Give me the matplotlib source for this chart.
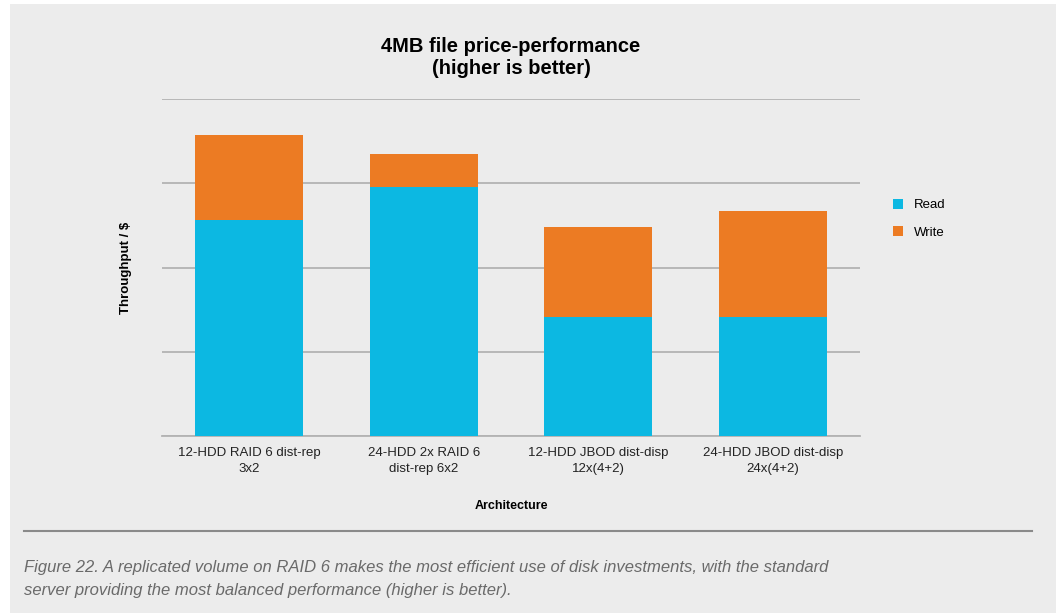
import numpy as np
import matplotlib
matplotlib.use("Agg")
import matplotlib.pyplot as plt
from matplotlib.patches import Rectangle
from matplotlib.lines import Line2D

# data (arbitrary throughput/$ units)
categories = ["12-HDD RAID 6 dist-rep\n3x2",
              "24-HDD 2x RAID 6\ndist-rep 6x2",
              "12-HDD JBOD dist-disp\n12x(4+2)",
              "24-HDD JBOD dist-disp\n24x(4+2)"]
read_vals = [2.56, 2.96, 1.41, 1.41]
write_vals = [1.01, 0.39, 1.07, 1.26]

READ_C = "#0cb8e2"
WRITE_C = "#ec7b23"
BG = "#ececec"

plt.rcParams['font.family'] = ['Liberation Sans', 'DejaVu Sans']

fig = plt.figure(figsize=(10.59, 6.13), dpi=100)
fig.patch.set_facecolor("white")
# grey panel behind everything
fig.patches.append(Rectangle((10/1059, 0), 1 - 13/1059, 1 - 4/613,
                             transform=fig.transFigure, facecolor=BG,
                             edgecolor="none", zorder=-10))

ax = fig.add_axes([162/1059, (613-436)/613, (860-162)/1059, (436-99)/613])
ax.set_facecolor(BG)

x = np.arange(len(categories))
ax.bar(x, read_vals, width=0.62, color=READ_C, label="Read", zorder=3)
ax.bar(x, write_vals, width=0.62, bottom=read_vals, color=WRITE_C,
       label="Write", zorder=3)

ax.set_xlim(-0.5, 3.5)
ax.set_ylim(0, 4)
ax.set_yticks([0, 1, 2, 3, 4])
ax.set_yticklabels([])
ax.yaxis.grid(True, color="#b3b3b3", linewidth=1.3, zorder=0)
ax.tick_params(axis="both", length=0)
ax.set_xticks(x)
ax.set_xticklabels(categories, fontsize=9.5, color="#222222", linespacing=1.4)
ax.tick_params(axis="x", pad=8)
for s in ["top", "right", "left"]:
    ax.spines[s].set_visible(False)
ax.spines["bottom"].set_color("#b3b3b3")
ax.spines["bottom"].set_linewidth(1.3)

ax.set_xlabel("Architecture", fontsize=9, fontweight="bold", labelpad=18)
ax.set_ylabel("Throughput / $", fontsize=9.5, fontweight="bold", labelpad=18)

fig.text(511/1059, 1 - 58/613, "4MB file price-performance\n(higher is better)",
         ha="center", va="center", fontsize=14.5, fontweight="bold",
         linespacing=1.2)

ax.legend(loc="center left", bbox_to_anchor=(1.03, 0.645), frameon=False,
          fontsize=9.5, handlelength=0.8, handleheight=0.8, labelspacing=1.1)

fig.add_artist(Line2D([24/1059, 1032/1059], [1 - 531/613, 1 - 531/613],
                      transform=fig.transFigure, color="#8a8a8a", linewidth=1.5))
fig.text(24/1059, 1 - 579/613,
         "Figure 22. A replicated volume on RAID 6 makes the most efficient use of disk investments, with the standard\n"
         "server providing the most balanced performance (higher is better).",
         ha="left", va="center", fontsize=12, style="italic", color="#6a6a6a",
         linespacing=1.6)

fig.savefig("out.png", dpi=100, facecolor=fig.get_facecolor())
